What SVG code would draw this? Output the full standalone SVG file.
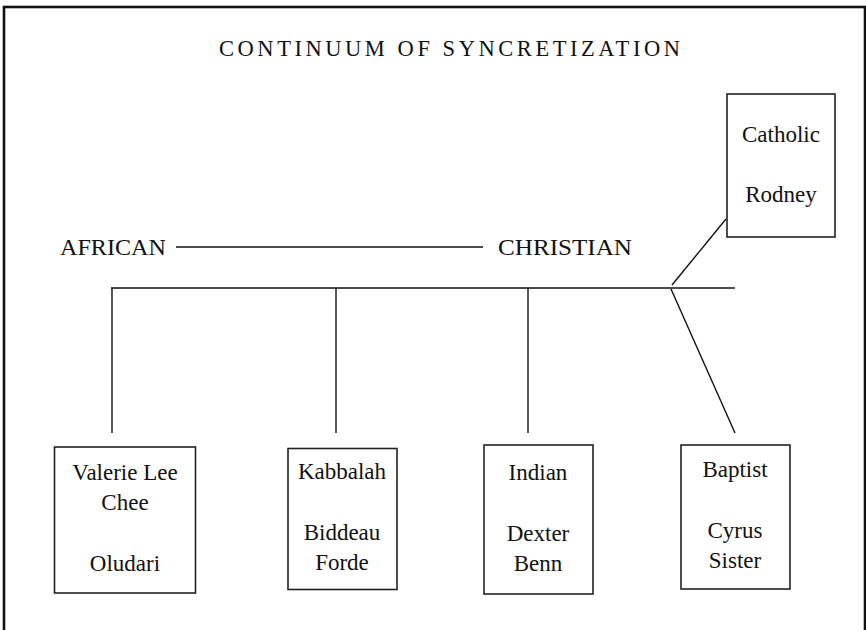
<svg xmlns="http://www.w3.org/2000/svg" width="866" height="630" viewBox="0 0 866 630">
<style>
text{font-family:"Liberation Serif","Times New Roman",serif;fill:#111;}
.box{fill:#fff;stroke:#222;stroke-width:1.6;}
.lbl{font-size:24px;}
.bt{font-size:23px;text-anchor:middle;}
.con line{stroke:#111;stroke-width:1.4;}
</style>
<rect x="4" y="7" width="861" height="640" fill="#fff" stroke="#111" stroke-width="2.6"/>
<text x="219" y="56" font-size="22.5" textLength="461" lengthAdjust="spacing">CONTINUUM OF SYNCRETIZATION</text>
<g id="axis">
<text class="lbl" x="60" y="255" textLength="106" lengthAdjust="spacingAndGlyphs">AFRICAN</text>
<line x1="176" y1="247" x2="483" y2="247" stroke="#111" stroke-width="1.4"/>
<text class="lbl" x="498" y="255" textLength="134" lengthAdjust="spacingAndGlyphs">CHRISTIAN</text>
</g>
<g id="connectors" class="con">
<line x1="111" y1="288" x2="735" y2="288"/>
<line x1="112" y1="288" x2="112" y2="433"/>
<line x1="336" y1="288" x2="336" y2="433"/>
<line x1="528" y1="288" x2="528" y2="433"/>
<line x1="671" y1="289" x2="735" y2="433"/>
<line x1="672" y1="285" x2="726" y2="219"/>
</g>
<g id="catholic">
<rect class="box" x="727" y="94" width="108" height="143"/>
<text class="bt" x="781" y="142">Catholic</text>
<text class="bt" x="781" y="202">Rodney</text>
</g>
<g id="valerie">
<rect class="box" x="54.5" y="447" width="141" height="146"/>
<text class="bt" x="125" y="480">Valerie Lee</text>
<text class="bt" x="125" y="510">Chee</text>
<text class="bt" x="125" y="571">Oludari</text>
</g>
<g id="kabbalah">
<rect class="box" x="288" y="448.5" width="109" height="141"/>
<text class="bt" x="342" y="479">Kabbalah</text>
<text class="bt" x="342" y="540">Biddeau</text>
<text class="bt" x="342" y="570">Forde</text>
</g>
<g id="indian">
<rect class="box" x="484" y="445" width="109" height="149"/>
<text class="bt" x="538" y="480">Indian</text>
<text class="bt" x="538" y="541">Dexter</text>
<text class="bt" x="538" y="571">Benn</text>
</g>
<g id="baptist">
<rect class="box" x="681" y="445" width="109" height="144"/>
<text class="bt" x="735" y="477">Baptist</text>
<text class="bt" x="735" y="538">Cyrus</text>
<text class="bt" x="735" y="568">Sister</text>
</g>
</svg>
